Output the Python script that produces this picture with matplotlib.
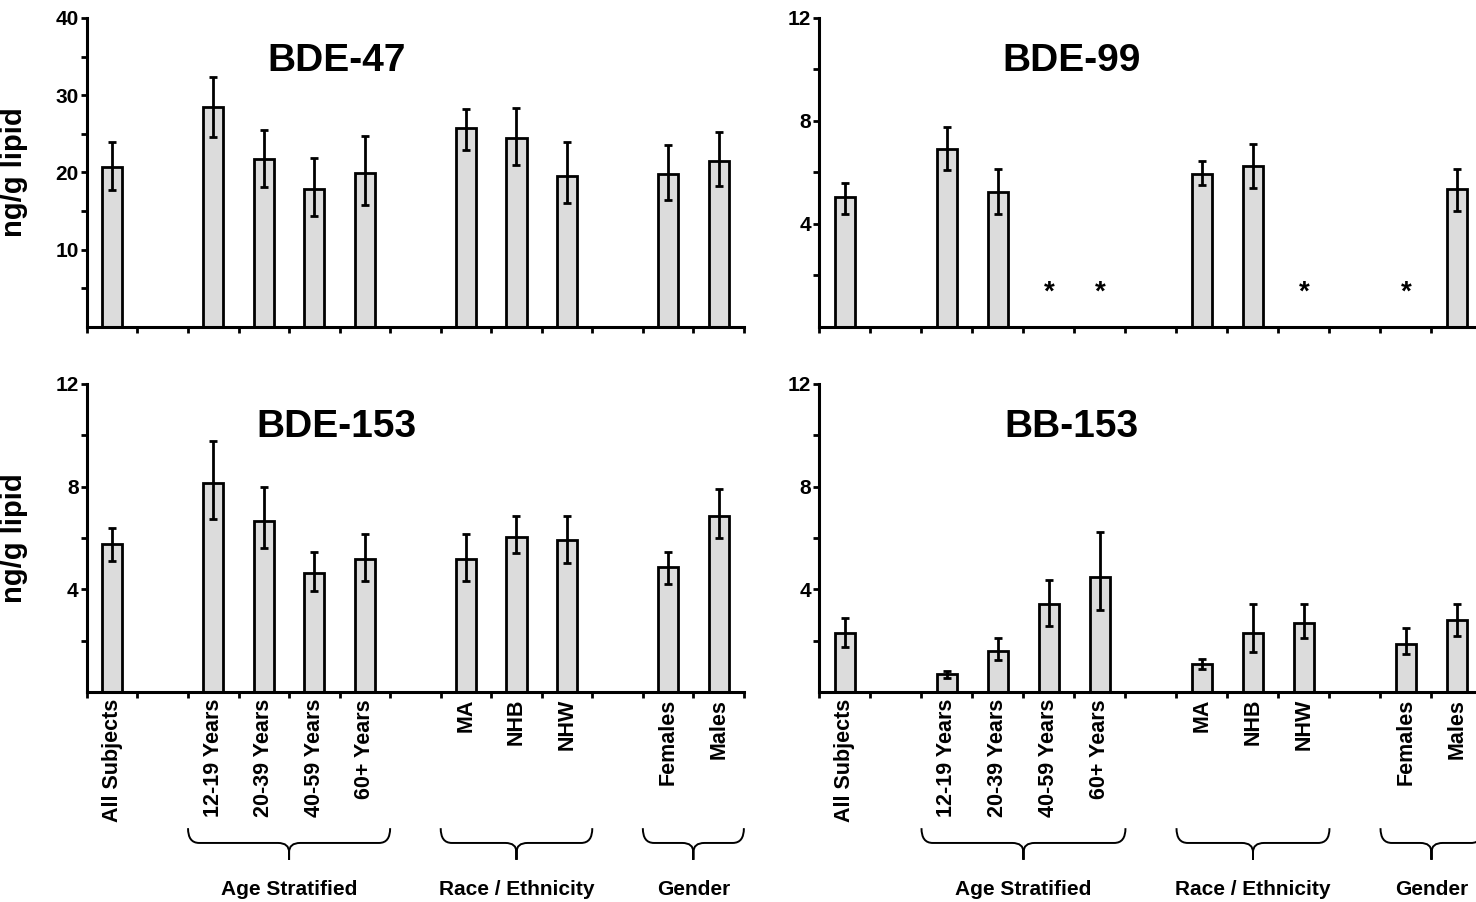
import numpy as np
import matplotlib
matplotlib.use("Agg")
import matplotlib.pyplot as plt
from matplotlib.path import Path
from matplotlib.patches import PathPatch
from matplotlib.transforms import blended_transform_factory

plt.rcParams['font.family'] = ['Liberation Sans', 'DejaVu Sans']
plt.rcParams['font.weight'] = 'bold'

nan = np.nan

# categories and their slot on the x axis (empty slots separate the groups)
categories = ["All Subjects", "12-19 Years", "20-39 Years", "40-59 Years", "60+ Years",
              "MA", "NHB", "NHW", "Females", "Males"]
slots = [0, 2, 3, 4, 5, 7, 8, 9, 11, 12]
groups = ["Age Stratified", "Race / Ethnicity", "Gender"]
group_first = [2, 7, 11]
group_last = [5, 9, 12]

# geometric means and 95% CI (ng/g lipid)
bde47 = [20.7, 28.5, 21.7, 17.9, 19.9, 25.8, 24.5, 19.6, 19.8, 21.5]
bde47_lo = [17.7, 24.6, 18.1, 14.4, 15.8, 22.9, 21.0, 16.1, 16.4, 18.3]
bde47_hi = [23.9, 32.4, 25.5, 21.9, 24.7, 28.2, 28.3, 23.9, 23.5, 25.3]

bde99 = [5.05, 6.9, 5.23, nan, nan, 5.93, 6.26, nan, nan, 5.35]
bde99_lo = [4.4, 6.1, 4.4, nan, nan, 5.5, 5.4, nan, nan, 4.5]
bde99_hi = [5.6, 7.75, 6.15, nan, nan, 6.44, 7.1, nan, nan, 6.15]

bde153 = [5.77, 8.14, 6.66, 4.64, 5.18, 5.18, 6.04, 5.92, 4.87, 6.86]
bde153_lo = [5.1, 6.74, 5.6, 3.93, 4.32, 4.32, 5.41, 5.03, 4.2, 6.0]
bde153_hi = [6.39, 9.78, 7.99, 5.45, 6.16, 6.16, 6.86, 6.86, 5.45, 7.9]

bb153 = [2.3, 0.7, 1.6, 3.43, 4.48, 1.09, 2.3, 2.69, 1.87, 2.8]
bb153_lo = [1.75, 0.55, 1.25, 2.57, 3.19, 0.9, 1.56, 2.1, 1.48, 2.18]
bb153_hi = [2.88, 0.82, 2.1, 4.36, 6.23, 1.29, 3.43, 3.43, 2.49, 3.43]

star_level = 1.35  # where "*" (below detection) is marked


def draw_brace(ax, x0, x1, yt=-0.442, yl=-0.49, yb=-0.545, dx=0.22):
    xm = (x0 + x1) / 2
    verts = [(x0, yt), (x0, yl), (x0 + dx, yl),
             (xm - dx, yl), (xm, yl), (xm, yl - 0.03), (xm, yb),
             (xm, yl - 0.03), (xm, yl), (xm + dx, yl),
             (x1 - dx, yl), (x1, yl), (x1, yt)]
    codes = [Path.MOVETO, Path.CURVE3, Path.CURVE3,
             Path.LINETO, Path.CURVE3, Path.CURVE3, Path.LINETO,
             Path.LINETO, Path.CURVE3, Path.CURVE3,
             Path.LINETO, Path.CURVE3, Path.CURVE3]
    tr = blended_transform_factory(ax.transData, ax.transAxes)
    ax.add_patch(PathPatch(Path(verts, codes), fill=False, lw=1.4,
                           edgecolor="black", transform=tr, clip_on=False))


def panel(ax, name, vals, lo, hi, ymax, major, bottom=False, ylabel=False):
    vals = np.array(vals, dtype=float)
    lo = np.array(lo, dtype=float)
    hi = np.array(hi, dtype=float)
    x = np.array(slots, dtype=float)
    ok = ~np.isnan(vals)
    ax.bar(x[ok], vals[ok], width=0.4, color="#dcdcdc", edgecolor="black",
           linewidth=2, zorder=2)
    ax.errorbar(x[ok], vals[ok], yerr=[vals[ok] - lo[ok], hi[ok] - vals[ok]],
                fmt="none", ecolor="black", elinewidth=2, capsize=3.2,
                capthick=2, zorder=3)
    for xi in x[~ok]:
        ax.text(xi, star_level, "*", ha="center", va="center",
                fontsize=20, fontweight="bold")

    ax.set_xlim(-0.5, 12.5)
    ax.set_ylim(0, ymax)
    ax.set_yticks(np.arange(major, ymax + 0.1, major))
    ax.set_yticks(np.arange(major / 2, ymax, major), minor=True)
    ax.set_yticklabels([f"{v:g}" for v in np.arange(major, ymax + 0.1, major)])
    ax.set_xticks(np.arange(-0.5, 13, 1.0))
    ax.set_xticklabels([])
    ax.tick_params(axis="y", which="both", direction="out", length=4,
                   width=2, labelsize=15, pad=2)
    ax.tick_params(axis="x", which="major", direction="out", length=4,
                   width=2)
    for s in ["top", "right"]:
        ax.spines[s].set_visible(False)
    for s in ["left", "bottom"]:
        ax.spines[s].set_linewidth(2.2)
    for lab in ax.get_yticklabels():
        lab.set_fontweight("bold")

    ax.text(0.38, 0.86, name, transform=ax.transAxes, ha="center",
            va="center", fontsize=28, fontweight="bold")
    if ylabel:
        ax.set_ylabel("ng/g lipid", fontsize=21, fontweight="bold")
        ax.yaxis.set_label_coords(-0.09, 0.5)
    if bottom:
        ax.set_xticks(slots, minor=True)
        ax.set_xticklabels(categories, minor=True, rotation=90, va="top",
                           ha="center", fontsize=15.5, fontweight="bold")
        ax.tick_params(axis="x", which="minor", length=0, pad=5)
        for g, a, b in zip(groups, group_first, group_last):
            draw_brace(ax, a - 0.5, b + 0.5)
            ax.text((a + b) / 2, -0.64, g, transform=blended_transform_factory(
                ax.transData, ax.transAxes), ha="center", va="center",
                fontsize=15, fontweight="bold", clip_on=False)


fig = plt.figure(figsize=(14.76, 9.02), dpi=100)
ax1 = fig.add_axes([0.0589, 0.6375, 0.4451, 0.3426])
ax2 = fig.add_axes([0.5552, 0.6375, 0.4492, 0.3426])
ax3 = fig.add_axes([0.0589, 0.2328, 0.4451, 0.3415])
ax4 = fig.add_axes([0.5552, 0.2328, 0.4492, 0.3415])

panel(ax1, "BDE-47", bde47, bde47_lo, bde47_hi, 40, 10, ylabel=True)
panel(ax2, "BDE-99", bde99, bde99_lo, bde99_hi, 12, 4)
panel(ax3, "BDE-153", bde153, bde153_lo, bde153_hi, 12, 4, bottom=True, ylabel=True)
panel(ax4, "BB-153", bb153, bb153_lo, bb153_hi, 12, 4, bottom=True)

fig.savefig("out.png", dpi=100)
